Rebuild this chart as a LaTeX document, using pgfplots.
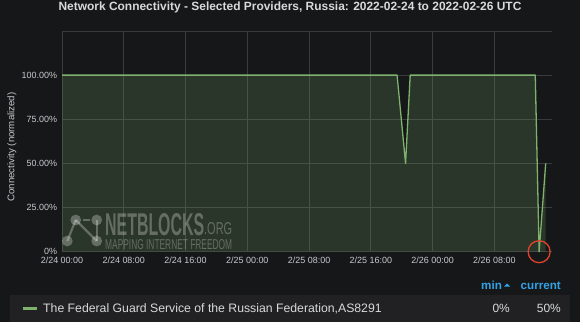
\documentclass[border=0pt]{standalone}
\usepackage{fontspec}
\setmainfont{Liberation Sans}
\usepackage{graphicx}
\usepackage{pgfplots}
\pgfplotsset{compat=1.18}

\definecolor{bg}{HTML}{161719}
\definecolor{txt}{HTML}{D8D9DA}
\definecolor{ticktxt}{HTML}{C7C9CC}
\definecolor{gridc}{HTML}{3A3B3D}
\definecolor{linec}{HTML}{7EB26D}
\definecolor{rowbg}{HTML}{212124}
\definecolor{hdr}{HTML}{33A2E5}
\definecolor{ring}{HTML}{E2432A}

% connectivity, hours since 2022-02-24 00:00 UTC vs. percent
\pgfplotstableread{
h      v
0      100
43.4   100
44.5   50
45.1   100
61.3   100
61.8   0
62.65  50
}\conn

\begin{document}
\begin{tikzpicture}[x=1bp,y=1bp]
\fill[bg] (0,0) rectangle (580,322);
\useasboundingbox (0,0) rectangle (580,322);

\node[text=txt, font=\fontsize{12}{14}\selectfont\bfseries] at (290,315)
  {Network Connectivity - Selected Providers, Russia: 2022-02-24 to 2022-02-26 UTC};

\begin{axis}[
  at={(62bp,70.3bp)}, anchor=south west,
  scale only axis, width=489.7bp, height=220.7bp,
  xmin=0, xmax=63.43, ymin=0, ymax=125,
  xtick={0,8,16,24,32,40,48,56},
  xticklabels={2/24 00:00,2/24 08:00,2/24 16:00,2/25 00:00,2/25 08:00,2/25 16:00,2/26 00:00,2/26 08:00},
  ytick={0,25,50,75,100,125},
  yticklabels={0\%,25.00\%,50.00\%,75.00\%,100.00\%,{}},
  grid=major,
  major grid style={draw=gridc, line width=0.7bp},
  axis line style={draw=none},
  major tick length=0pt,
  tick label style={font=\fontsize{9}{10}\selectfont, text=ticktxt},
  xticklabel style={yshift=-2bp},
  yticklabel style={xshift=-1.5bp},
  clip=false,
]
\addplot[draw=none, fill=linec, fill opacity=0.2] table[x=h, y=v] {\conn} \closedcycle;
\addplot[linec, line width=1.3bp, line join=round] table[x=h, y=v] {\conn};
\draw[ring, line width=1.3bp] (axis cs:61.8,0) circle[radius=11bp];
\end{axis}

% axis title
\node[text=ticktxt, rotate=90, font=\fontsize{9.7}{11}\selectfont] at (12,175) {Connectivity (normalized)};

% watermark
\begin{scope}[white, opacity=0.28]
  \draw[line width=2.2bp] (75.7,102) -- (67.3,81);
  \draw[line width=2.2bp] (75.7,102) -- (96.7,81);
  \draw[line width=2.2bp] (96.7,102) -- (96.7,81);
  \draw[line width=2.2bp] (83,102) -- (90,102);
  \fill (67.3,81) circle[radius=5.4];
  \fill (75.7,102) circle[radius=5.4];
  \fill (96.7,102) circle[radius=5.4];
  \fill (96.7,81) circle[radius=5.4];
  \node[anchor=base west, inner sep=0] at (105,87) {\resizebox{99bp}{22bp}{\bfseries NETBLOCKS}};
  \node[anchor=base west, inner sep=0] at (204,88) {\resizebox{28bp}{12bp}{.ORG}};
  \node[anchor=base west, inner sep=0] at (105,73) {\resizebox{127bp}{10bp}{MAPPING INTERNET FREEDOM}};
\end{scope}

% legend table
\node[text=hdr, font=\fontsize{11.7}{13}\selectfont\bfseries, anchor=base west, inner sep=0] at (481,33) {min};
\fill[hdr] (504,35.5) -- (510,35.5) -- (507,38.5) -- cycle;
\node[text=hdr, font=\fontsize{11.7}{13}\selectfont\bfseries, anchor=base east, inner sep=0] at (561,33) {current};
\fill[rowbg] (10,0) rectangle (570,27);
\draw[linec, line width=3bp] (23,13.5) -- (37,13.5);
\node[text=txt, font=\fontsize{12.3}{14}\selectfont, anchor=base west, inner sep=0] at (43,9.5)
  {The Federal Guard Service of the Russian Federation,AS8291};
\node[text=txt, font=\fontsize{12}{14}\selectfont, anchor=base east, inner sep=0] at (510,9.5) {0\%};
\node[text=txt, font=\fontsize{12}{14}\selectfont, anchor=base east, inner sep=0] at (561,9.5) {50\%};
\end{tikzpicture}
\end{document}
